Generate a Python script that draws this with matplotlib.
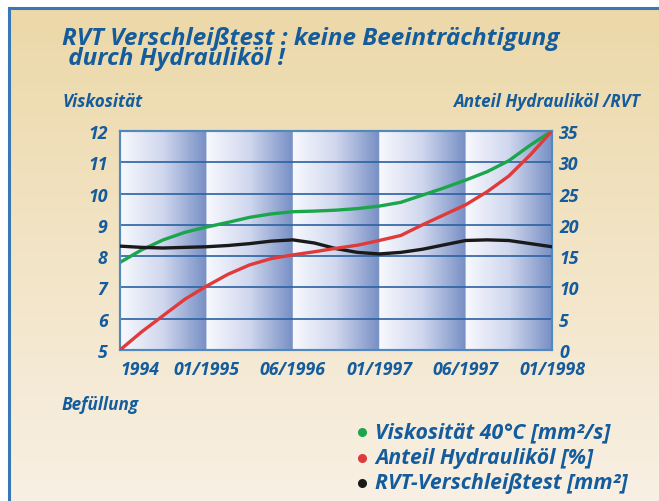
import numpy as np
import matplotlib
matplotlib.use("Agg")
import matplotlib.pyplot as plt
from matplotlib.colors import LinearSegmentedColormap
from matplotlib.lines import Line2D
from matplotlib.font_manager import FontProperties

#### Data (x in band units: 0 = 1994 ... 5 = 01/1998)
pos = [0, 0.25, 0.5, 0.75, 1, 1.25, 1.5, 1.75, 2, 2.25, 2.5, 2.75,
       3, 3.25, 3.5, 3.75, 4, 4.25, 4.5, 4.75, 5]
viskositaet = [7.8, 8.2, 8.52, 8.76, 8.93, 9.08, 9.24, 9.35, 9.42, 9.44, 9.47,
               9.52, 9.6, 9.72, 9.95, 10.18, 10.43, 10.7, 11.05, 11.55, 12.0]
anteil = [0, 2.9, 5.5, 8.1, 10.2, 12.1, 13.6, 14.6, 15.2, 15.7, 16.25, 16.75,
          17.5, 18.3, 20.0, 21.6, 23.2, 25.3, 27.8, 31.2, 35]
rvt = [16.6, 16.4, 16.3, 16.4, 16.5, 16.7, 17.0, 17.4, 17.6, 17.1, 16.2, 15.6,
       15.35, 15.6, 16.1, 16.8, 17.5, 17.6, 17.5, 17.0, 16.5]

xticklabels = ['1994', '01/1995', '06/1996', '01/1997', '06/1997', '01/1998']
left_ticks = [5, 6, 7, 8, 9, 10, 11, 12]
right_ticks = [0, 5, 10, 15, 20, 25, 30, 35]
legend_labels = ['Viskosität 40°C [mm²/s]', 'Anteil Hydrauliköl [%]',
                 'RVT-Verschleißtest [mm²]']
title = 'RVT Verschleißtest : keine Beeinträchtigung\n durch Hydrauliköl !'

green = '#1ba64b'
red = '#e03a3a'
black = '#1a1a1a'
blue_txt = '#155c9c'
families = ['Open Sans', 'DejaVu Sans']
font = dict(family=families, weight='bold', style='italic', color=blue_txt)
tick_fp = FontProperties(family=families, weight='bold', style='italic', size=12.8)

fig = plt.figure(figsize=(6.59, 5.02), dpi=100)

#### beige background panel with blue border on left/top
bg = fig.add_axes([9 / 659, 0, 650 / 659, 493 / 502], zorder=-10)
grad = np.linspace(0, 1, 256).reshape(-1, 1)
bg_cmap = LinearSegmentedColormap.from_list('bg', ['#ecd8a8', '#f8f0e4'])
bg.imshow(grad, cmap=bg_cmap, aspect='auto', extent=(0, 1, 0, 1), origin='upper')
bg.set_xlim(0, 1)
bg.set_ylim(0, 1)
bg.set_xticks([])
bg.set_yticks([])
for s in ['right', 'bottom']:
    bg.spines[s].set_visible(False)
for s in ['left', 'top']:
    bg.spines[s].set_color('#3a78b5')
    bg.spines[s].set_linewidth(2.2)

#### main chart
ax = fig.add_axes([120 / 659, 1 - 351 / 502, 432 / 659, 219 / 502])
band_cmap = LinearSegmentedColormap.from_list('band', ['#f8f9fe', '#d0d7ee', '#7890c5'])
xs = np.linspace(0, 5, 1000, endpoint=False)
frac = (xs % 1).reshape(1, -1)
ax.imshow(frac, cmap=band_cmap, aspect='auto', extent=(0, 5, 5, 12), zorder=0)
for v in left_ticks[1:-1]:
    ax.axhline(v, color='#2a62a0', lw=1.2, zorder=1)

ax.plot(pos, viskositaet, color=green, lw=2.4, zorder=3, solid_capstyle='round')
ax.set_xlim(0, 5)
ax.set_ylim(5, 12)
ax.set_xticks(range(6))
ax.set_xticklabels(xticklabels)
ax.set_yticks(left_ticks)
ax.tick_params(length=0)
ax.tick_params(axis='y', pad=9)
ax.tick_params(axis='x', pad=7)
for lab in ax.get_xticklabels() + ax.get_yticklabels():
    lab.set_fontproperties(tick_fp)
    lab.set_color(blue_txt)
ax.get_xticklabels()[0].set_horizontalalignment('left')
for s in ax.spines.values():
    s.set_color('#5189bd')
    s.set_linewidth(1.5)

ax2 = ax.twinx()
ax2.plot(pos, rvt, color=black, lw=2.4, zorder=3)
ax2.plot(pos, anteil, color=red, lw=2.4, zorder=4)
ax2.set_ylim(0, 35)
ax2.set_yticks(right_ticks)
ax2.tick_params(length=0, pad=5)
for lab in ax2.get_yticklabels():
    lab.set_fontproperties(tick_fp)
    lab.set_color(blue_txt)
for s in ax2.spines.values():
    s.set_color('#5189bd')
    s.set_linewidth(1.5)

#### titles and labels
fig.text(62 / 659, 1 - 49 / 502, title, fontsize=17.5, va='center', ha='left',
         linespacing=0.8, **font)
fig.text(62 / 659, 1 - 102 / 502, 'Viskosität', fontsize=12.3, va='center', **font)
fig.text(640 / 659, 1 - 102 / 502, 'Anteil Hydrauliköl /RVT', fontsize=12.3,
         va='center', ha='right', **font)
fig.text(62 / 659, 1 - 405 / 502, 'Befüllung', fontsize=12.3, va='center', **font)

#### legend
for i, (lab, c) in enumerate(zip(legend_labels, [green, red, black])):
    y = 1 - (433 + i * 25.5) / 502
    fig.add_artist(Line2D([362 / 659], [y], marker='o', markersize=5.5,
                          color=c, transform=fig.transFigure))
    fig.text(375 / 659, y, lab, fontsize=15.3, va='center', ha='left', **font)

fig.savefig('out.png', dpi=100)
